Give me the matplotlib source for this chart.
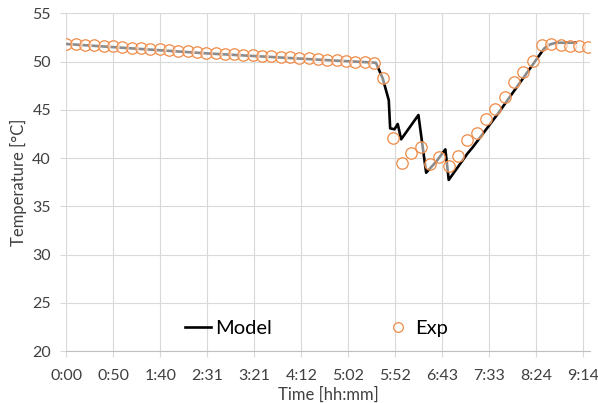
import matplotlib
matplotlib.use('Agg')
import matplotlib.pyplot as plt

# Exp: one reading every 10 min [min], temperature [°C]
exp_t = [0, 10, 20, 30, 40, 50, 60, 70, 80, 90, 100, 110, 120, 130, 140, 150,
         160, 170, 180, 190, 200, 210, 220, 230, 240, 250, 260, 270, 280, 290,
         300, 310, 320, 330, 340, 350, 360, 370, 380, 390, 400, 410, 420, 430,
         440, 450, 460, 470, 480, 490, 500, 510, 520, 530, 540, 550, 560]
exp_T = [51.82, 51.78, 51.74, 51.68, 51.62, 51.56, 51.5, 51.45, 51.39, 51.33,
         51.27, 51.21, 51.14, 51.07, 51.0, 50.93, 50.87, 50.82, 50.76, 50.7,
         50.65, 50.6, 50.55, 50.5, 50.44, 50.39, 50.33, 50.27, 50.2, 50.12,
         50.05, 49.99, 49.94, 49.88, 48.26, 42.08, 39.5, 40.5, 41.18, 39.38,
         40.14, 39.2, 40.24, 41.87, 42.63, 44.02, 45.12, 46.36, 47.91, 48.95,
         50.09, 51.68, 51.82, 51.75, 51.61, 51.61, 51.54]

# Model curve
model_t = [0, 150, 290, 332, 339.3, 345.8, 347.3, 351.9, 355.4, 359.1, 377.6,
           385.9, 396.6, 406.5, 410.1, 430.4, 435.8, 462.6, 512.6, 518, 525.2,
           546.6]
model_T = [51.82, 50.85, 50.09, 49.88, 48.26, 46.0, 43.08, 42.98, 43.53, 41.94,
           44.46, 38.48, 39.62, 40.9, 37.73, 40.49, 41.11, 44.56, 51.37, 51.75,
           51.95, 51.95]

tick_pos = [0, 50.4, 100.8, 151.2, 201.6, 252, 302.4, 352.8, 403.2, 453.6,
            504, 554.4]
tick_labels = ['0:00', '0:50', '1:40', '2:31', '3:21', '4:12', '5:02', '5:52',
               '6:43', '7:33', '8:24', '9:14']

plt.rcParams['font.family'] = ['Lato', 'DejaVu Sans']
txt = '#404040'
grid = '#d9d9d9'

fig = plt.figure(figsize=(5.98, 4.03), dpi=100)
ax = fig.add_axes([0.1109, 0.129, 0.8757, 0.838])

ax.plot(model_t, model_T, color='black', lw=1.9, solid_joinstyle='round',
        label='Model', zorder=3)
ax.plot(exp_t, exp_T, ls='none', marker='o', ms=8.2, mew=0.9,
        mec='#F08A45', mfc=(1, 1, 1, 0.55), label='Exp', zorder=4)

ax.set_xlim(0, 561.6)
ax.set_ylim(20, 55)
ax.set_xticks(tick_pos)
ax.set_xticklabels(tick_labels)
ax.set_yticks(range(20, 56, 5))

ax.grid(True, color=grid, lw=0.8)
ax.set_axisbelow(True)
for s in ['top', 'right', 'left']:
    ax.spines[s].set_visible(False)
ax.spines['bottom'].set_color('#bfbfbf')
ax.spines['bottom'].set_linewidth(0.8)
ax.tick_params(axis='x', length=4.5, width=0.8, color=grid, pad=8.5,
               labelsize=11.5, labelcolor=txt)
ax.tick_params(axis='y', length=4, width=0.8, color=grid, pad=7,
               labelsize=11.5, labelcolor=txt)

ax.set_xlabel('Time [hh:mm]', fontsize=12, color=txt)
ax.set_ylabel('Temperature [°C]', fontsize=12, color=txt)
ax.xaxis.set_label_coords(0.5, -0.106)
ax.yaxis.set_label_coords(-0.076, 0.5)

ax.legend(loc='center', bbox_to_anchor=(0.477, 0.068), ncol=2, frameon=False,
          fontsize=14.5, handlelength=1.3, handletextpad=0.2,
          columnspacing=5.6, labelcolor='black', markerscale=0.85)

fig.savefig('out.png', dpi=100)
